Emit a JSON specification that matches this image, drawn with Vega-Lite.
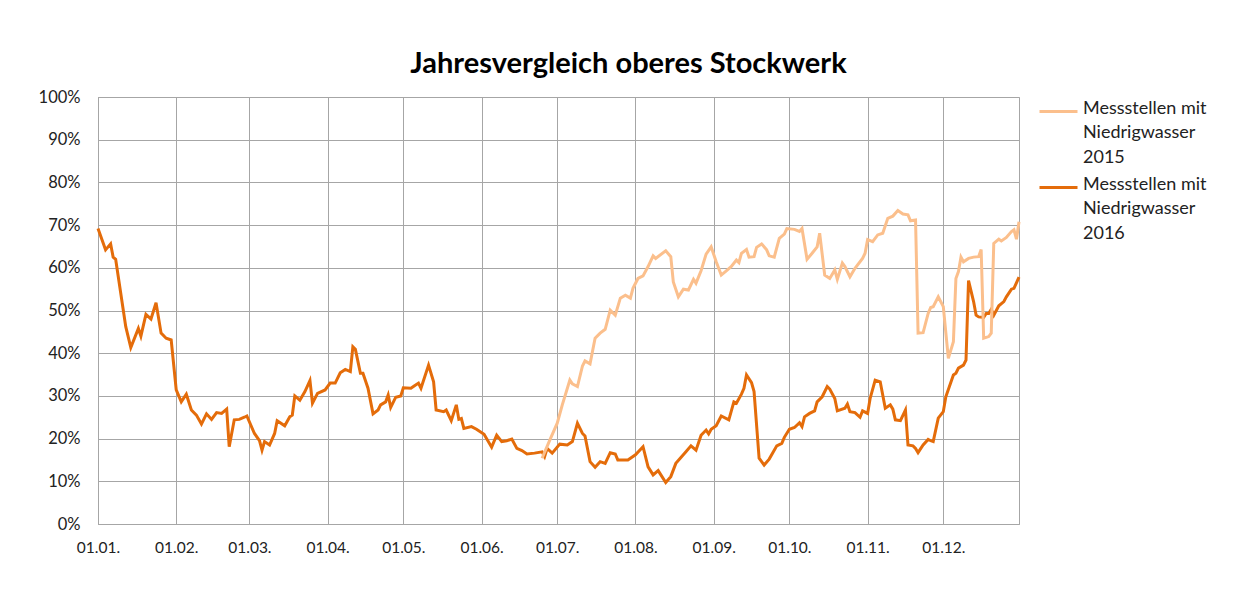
{
  "$schema": "https://vega.github.io/schema/vega-lite/v6.json",
  "width": 921,
  "height": 427,
  "autosize": {"type": "none"},
  "padding": {"left": 98, "top": 97, "right": 221, "bottom": 66},
  "background": "white",
  "title": {"text": "Jahresvergleich oberes Stockwerk", "font": "Lato", "fontSize": 29, "fontWeight": "bold", "color": "#000000", "anchor": "middle", "dx": 70, "offset": 10},
  "datasets": {
    "rows": [
      {"s": "2016", "d": "2016-01-01", "v": 69.2},
      {"s": "2016", "d": "2016-01-04", "v": 64.2},
      {"s": "2016", "d": "2016-01-06", "v": 65.6},
      {"s": "2016", "d": "2016-01-07", "v": 62.5},
      {"s": "2016", "d": "2016-01-08", "v": 62.0},
      {"s": "2016", "d": "2016-01-12", "v": 46.2},
      {"s": "2016", "d": "2016-01-14", "v": 41.3},
      {"s": "2016", "d": "2016-01-17", "v": 45.8},
      {"s": "2016", "d": "2016-01-18", "v": 44.0},
      {"s": "2016", "d": "2016-01-20", "v": 49.1},
      {"s": "2016", "d": "2016-01-22", "v": 48.0},
      {"s": "2016", "d": "2016-01-24", "v": 51.8},
      {"s": "2016", "d": "2016-01-26", "v": 44.7},
      {"s": "2016", "d": "2016-01-28", "v": 43.5},
      {"s": "2016", "d": "2016-01-30", "v": 43.1},
      {"s": "2016", "d": "2016-02-01", "v": 31.4},
      {"s": "2016", "d": "2016-02-03", "v": 28.6},
      {"s": "2016", "d": "2016-02-05", "v": 30.4},
      {"s": "2016", "d": "2016-02-07", "v": 26.7},
      {"s": "2016", "d": "2016-02-09", "v": 25.5},
      {"s": "2016", "d": "2016-02-11", "v": 23.4},
      {"s": "2016", "d": "2016-02-13", "v": 25.8},
      {"s": "2016", "d": "2016-02-15", "v": 24.5},
      {"s": "2016", "d": "2016-02-17", "v": 26.1},
      {"s": "2016", "d": "2016-02-19", "v": 25.9},
      {"s": "2016", "d": "2016-02-21", "v": 26.9},
      {"s": "2016", "d": "2016-02-22", "v": 18.1},
      {"s": "2016", "d": "2016-02-24", "v": 24.4},
      {"s": "2016", "d": "2016-02-26", "v": 24.5},
      {"s": "2016", "d": "2016-02-28", "v": 25.0},
      {"s": "2016", "d": "2016-02-29", "v": 25.3},
      {"s": "2016", "d": "2016-03-03", "v": 21.2},
      {"s": "2016", "d": "2016-03-05", "v": 19.5},
      {"s": "2016", "d": "2016-03-06", "v": 17.3},
      {"s": "2016", "d": "2016-03-07", "v": 19.3},
      {"s": "2016", "d": "2016-03-09", "v": 18.5},
      {"s": "2016", "d": "2016-03-11", "v": 21.2},
      {"s": "2016", "d": "2016-03-12", "v": 24.2},
      {"s": "2016", "d": "2016-03-15", "v": 23.0},
      {"s": "2016", "d": "2016-03-17", "v": 25.1},
      {"s": "2016", "d": "2016-03-18", "v": 25.5},
      {"s": "2016", "d": "2016-03-19", "v": 30.0},
      {"s": "2016", "d": "2016-03-21", "v": 29.0},
      {"s": "2016", "d": "2016-03-23", "v": 31.0},
      {"s": "2016", "d": "2016-03-25", "v": 33.6},
      {"s": "2016", "d": "2016-03-26", "v": 28.3},
      {"s": "2016", "d": "2016-03-28", "v": 30.6},
      {"s": "2016", "d": "2016-03-31", "v": 31.4},
      {"s": "2016", "d": "2016-04-02", "v": 33.0},
      {"s": "2016", "d": "2016-04-04", "v": 33.0},
      {"s": "2016", "d": "2016-04-06", "v": 35.4},
      {"s": "2016", "d": "2016-04-08", "v": 36.2},
      {"s": "2016", "d": "2016-04-10", "v": 35.7},
      {"s": "2016", "d": "2016-04-11", "v": 41.5},
      {"s": "2016", "d": "2016-04-12", "v": 40.9},
      {"s": "2016", "d": "2016-04-14", "v": 35.3},
      {"s": "2016", "d": "2016-04-15", "v": 35.3},
      {"s": "2016", "d": "2016-04-17", "v": 31.8},
      {"s": "2016", "d": "2016-04-19", "v": 25.8},
      {"s": "2016", "d": "2016-04-21", "v": 26.7},
      {"s": "2016", "d": "2016-04-22", "v": 27.9},
      {"s": "2016", "d": "2016-04-24", "v": 28.6},
      {"s": "2016", "d": "2016-04-25", "v": 30.2},
      {"s": "2016", "d": "2016-04-26", "v": 27.3},
      {"s": "2016", "d": "2016-04-28", "v": 29.7},
      {"s": "2016", "d": "2016-04-30", "v": 30.0},
      {"s": "2016", "d": "2016-05-01", "v": 31.9},
      {"s": "2016", "d": "2016-05-04", "v": 31.8},
      {"s": "2016", "d": "2016-05-05", "v": 32.2},
      {"s": "2016", "d": "2016-05-07", "v": 33.0},
      {"s": "2016", "d": "2016-05-08", "v": 31.8},
      {"s": "2016", "d": "2016-05-11", "v": 37.2},
      {"s": "2016", "d": "2016-05-13", "v": 33.3},
      {"s": "2016", "d": "2016-05-14", "v": 26.7},
      {"s": "2016", "d": "2016-05-17", "v": 26.3},
      {"s": "2016", "d": "2016-05-18", "v": 26.7},
      {"s": "2016", "d": "2016-05-20", "v": 24.2},
      {"s": "2016", "d": "2016-05-22", "v": 27.9},
      {"s": "2016", "d": "2016-05-23", "v": 24.5},
      {"s": "2016", "d": "2016-05-24", "v": 24.7},
      {"s": "2016", "d": "2016-05-25", "v": 22.4},
      {"s": "2016", "d": "2016-05-28", "v": 22.8},
      {"s": "2016", "d": "2016-05-30", "v": 22.2},
      {"s": "2016", "d": "2016-06-02", "v": 21.0},
      {"s": "2016", "d": "2016-06-05", "v": 18.0},
      {"s": "2016", "d": "2016-06-07", "v": 20.8},
      {"s": "2016", "d": "2016-06-09", "v": 19.3},
      {"s": "2016", "d": "2016-06-11", "v": 19.5},
      {"s": "2016", "d": "2016-06-13", "v": 19.9},
      {"s": "2016", "d": "2016-06-15", "v": 17.7},
      {"s": "2016", "d": "2016-06-17", "v": 17.2},
      {"s": "2016", "d": "2016-06-19", "v": 16.4},
      {"s": "2016", "d": "2016-06-22", "v": 16.6},
      {"s": "2016", "d": "2016-06-25", "v": 16.9},
      {"s": "2016", "d": "2016-06-26", "v": 15.8},
      {"s": "2016", "d": "2016-06-27", "v": 17.7},
      {"s": "2016", "d": "2016-06-29", "v": 16.6},
      {"s": "2016", "d": "2016-07-02", "v": 18.7},
      {"s": "2016", "d": "2016-07-05", "v": 18.5},
      {"s": "2016", "d": "2016-07-07", "v": 19.3},
      {"s": "2016", "d": "2016-07-09", "v": 23.6},
      {"s": "2016", "d": "2016-07-11", "v": 21.2},
      {"s": "2016", "d": "2016-07-12", "v": 20.6},
      {"s": "2016", "d": "2016-07-14", "v": 14.6},
      {"s": "2016", "d": "2016-07-16", "v": 13.3},
      {"s": "2016", "d": "2016-07-18", "v": 14.6},
      {"s": "2016", "d": "2016-07-20", "v": 14.2},
      {"s": "2016", "d": "2016-07-22", "v": 16.7},
      {"s": "2016", "d": "2016-07-24", "v": 16.4},
      {"s": "2016", "d": "2016-07-25", "v": 15.0},
      {"s": "2016", "d": "2016-07-29", "v": 15.0},
      {"s": "2016", "d": "2016-08-01", "v": 16.2},
      {"s": "2016", "d": "2016-08-04", "v": 18.1},
      {"s": "2016", "d": "2016-08-06", "v": 13.4},
      {"s": "2016", "d": "2016-08-08", "v": 11.5},
      {"s": "2016", "d": "2016-08-10", "v": 12.5},
      {"s": "2016", "d": "2016-08-13", "v": 9.7},
      {"s": "2016", "d": "2016-08-15", "v": 11.1},
      {"s": "2016", "d": "2016-08-17", "v": 14.2},
      {"s": "2016", "d": "2016-08-21", "v": 16.9},
      {"s": "2016", "d": "2016-08-23", "v": 18.3},
      {"s": "2016", "d": "2016-08-25", "v": 17.3},
      {"s": "2016", "d": "2016-08-27", "v": 20.8},
      {"s": "2016", "d": "2016-08-29", "v": 22.0},
      {"s": "2016", "d": "2016-08-30", "v": 21.1},
      {"s": "2016", "d": "2016-08-31", "v": 22.2},
      {"s": "2016", "d": "2016-09-02", "v": 23.0},
      {"s": "2016", "d": "2016-09-04", "v": 25.3},
      {"s": "2016", "d": "2016-09-07", "v": 24.4},
      {"s": "2016", "d": "2016-09-09", "v": 28.6},
      {"s": "2016", "d": "2016-09-10", "v": 28.3},
      {"s": "2016", "d": "2016-09-12", "v": 30.4},
      {"s": "2016", "d": "2016-09-13", "v": 31.8},
      {"s": "2016", "d": "2016-09-14", "v": 34.9},
      {"s": "2016", "d": "2016-09-16", "v": 33.1},
      {"s": "2016", "d": "2016-09-17", "v": 31.0},
      {"s": "2016", "d": "2016-09-19", "v": 15.4},
      {"s": "2016", "d": "2016-09-20", "v": 14.6},
      {"s": "2016", "d": "2016-09-21", "v": 13.8},
      {"s": "2016", "d": "2016-09-23", "v": 15.2},
      {"s": "2016", "d": "2016-09-26", "v": 18.3},
      {"s": "2016", "d": "2016-09-28", "v": 18.9},
      {"s": "2016", "d": "2016-09-29", "v": 20.3},
      {"s": "2016", "d": "2016-10-01", "v": 22.2},
      {"s": "2016", "d": "2016-10-03", "v": 22.6},
      {"s": "2016", "d": "2016-10-05", "v": 23.7},
      {"s": "2016", "d": "2016-10-06", "v": 22.8},
      {"s": "2016", "d": "2016-10-07", "v": 25.1},
      {"s": "2016", "d": "2016-10-09", "v": 25.9},
      {"s": "2016", "d": "2016-10-11", "v": 26.5},
      {"s": "2016", "d": "2016-10-12", "v": 28.6},
      {"s": "2016", "d": "2016-10-14", "v": 29.8},
      {"s": "2016", "d": "2016-10-16", "v": 32.2},
      {"s": "2016", "d": "2016-10-17", "v": 31.6},
      {"s": "2016", "d": "2016-10-19", "v": 29.4},
      {"s": "2016", "d": "2016-10-20", "v": 26.5},
      {"s": "2016", "d": "2016-10-23", "v": 27.1},
      {"s": "2016", "d": "2016-10-24", "v": 28.1},
      {"s": "2016", "d": "2016-10-25", "v": 26.3},
      {"s": "2016", "d": "2016-10-27", "v": 26.1},
      {"s": "2016", "d": "2016-10-29", "v": 25.0},
      {"s": "2016", "d": "2016-10-30", "v": 26.5},
      {"s": "2016", "d": "2016-11-01", "v": 25.9},
      {"s": "2016", "d": "2016-11-02", "v": 29.4},
      {"s": "2016", "d": "2016-11-04", "v": 33.7},
      {"s": "2016", "d": "2016-11-06", "v": 33.3},
      {"s": "2016", "d": "2016-11-08", "v": 27.1},
      {"s": "2016", "d": "2016-11-10", "v": 27.9},
      {"s": "2016", "d": "2016-11-11", "v": 26.9},
      {"s": "2016", "d": "2016-11-12", "v": 24.4},
      {"s": "2016", "d": "2016-11-14", "v": 24.2},
      {"s": "2016", "d": "2016-11-16", "v": 26.7},
      {"s": "2016", "d": "2016-11-17", "v": 18.5},
      {"s": "2016", "d": "2016-11-19", "v": 18.3},
      {"s": "2016", "d": "2016-11-20", "v": 17.7},
      {"s": "2016", "d": "2016-11-21", "v": 16.7},
      {"s": "2016", "d": "2016-11-23", "v": 18.5},
      {"s": "2016", "d": "2016-11-25", "v": 19.8},
      {"s": "2016", "d": "2016-11-26", "v": 19.5},
      {"s": "2016", "d": "2016-11-27", "v": 19.3},
      {"s": "2016", "d": "2016-11-29", "v": 24.8},
      {"s": "2016", "d": "2016-12-01", "v": 26.3},
      {"s": "2016", "d": "2016-12-02", "v": 29.8},
      {"s": "2016", "d": "2016-12-05", "v": 34.9},
      {"s": "2016", "d": "2016-12-06", "v": 35.3},
      {"s": "2016", "d": "2016-12-07", "v": 36.5},
      {"s": "2016", "d": "2016-12-09", "v": 37.2},
      {"s": "2016", "d": "2016-12-10", "v": 38.4},
      {"s": "2016", "d": "2016-12-11", "v": 57.0},
      {"s": "2016", "d": "2016-12-13", "v": 52.1},
      {"s": "2016", "d": "2016-12-14", "v": 48.9},
      {"s": "2016", "d": "2016-12-15", "v": 48.5},
      {"s": "2016", "d": "2016-12-17", "v": 48.4},
      {"s": "2016", "d": "2016-12-18", "v": 49.3},
      {"s": "2016", "d": "2016-12-19", "v": 49.3},
      {"s": "2016", "d": "2016-12-20", "v": 50.3},
      {"s": "2016", "d": "2016-12-21", "v": 48.9},
      {"s": "2016", "d": "2016-12-23", "v": 51.1},
      {"s": "2016", "d": "2016-12-25", "v": 52.1},
      {"s": "2016", "d": "2016-12-26", "v": 53.2},
      {"s": "2016", "d": "2016-12-28", "v": 55.0},
      {"s": "2016", "d": "2016-12-29", "v": 55.2},
      {"s": "2016", "d": "2016-12-31", "v": 57.8},
      {"s": "2015", "d": "2016-06-25", "v": 15.4},
      {"s": "2015", "d": "2016-06-28", "v": 19.6},
      {"s": "2015", "d": "2016-07-01", "v": 23.6},
      {"s": "2015", "d": "2016-07-03", "v": 27.9},
      {"s": "2015", "d": "2016-07-06", "v": 33.7},
      {"s": "2015", "d": "2016-07-07", "v": 32.8},
      {"s": "2015", "d": "2016-07-09", "v": 32.2},
      {"s": "2015", "d": "2016-07-11", "v": 37.0},
      {"s": "2015", "d": "2016-07-12", "v": 38.2},
      {"s": "2015", "d": "2016-07-14", "v": 37.5},
      {"s": "2015", "d": "2016-07-16", "v": 43.5},
      {"s": "2015", "d": "2016-07-18", "v": 44.7},
      {"s": "2015", "d": "2016-07-20", "v": 45.6},
      {"s": "2015", "d": "2016-07-22", "v": 50.1},
      {"s": "2015", "d": "2016-07-24", "v": 48.9},
      {"s": "2015", "d": "2016-07-26", "v": 52.9},
      {"s": "2015", "d": "2016-07-28", "v": 53.6},
      {"s": "2015", "d": "2016-07-30", "v": 52.9},
      {"s": "2015", "d": "2016-07-31", "v": 55.2},
      {"s": "2015", "d": "2016-08-02", "v": 57.5},
      {"s": "2015", "d": "2016-08-04", "v": 58.1},
      {"s": "2015", "d": "2016-08-06", "v": 60.3},
      {"s": "2015", "d": "2016-08-08", "v": 62.8},
      {"s": "2015", "d": "2016-08-09", "v": 62.2},
      {"s": "2015", "d": "2016-08-13", "v": 64.0},
      {"s": "2015", "d": "2016-08-15", "v": 62.6},
      {"s": "2015", "d": "2016-08-16", "v": 56.7},
      {"s": "2015", "d": "2016-08-18", "v": 53.2},
      {"s": "2015", "d": "2016-08-20", "v": 55.0},
      {"s": "2015", "d": "2016-08-22", "v": 54.8},
      {"s": "2015", "d": "2016-08-24", "v": 57.3},
      {"s": "2015", "d": "2016-08-25", "v": 56.4},
      {"s": "2015", "d": "2016-08-27", "v": 59.3},
      {"s": "2015", "d": "2016-08-29", "v": 63.2},
      {"s": "2015", "d": "2016-08-31", "v": 64.9},
      {"s": "2015", "d": "2016-09-02", "v": 61.4},
      {"s": "2015", "d": "2016-09-04", "v": 58.3},
      {"s": "2015", "d": "2016-09-06", "v": 59.3},
      {"s": "2015", "d": "2016-09-08", "v": 60.3},
      {"s": "2015", "d": "2016-09-10", "v": 61.8},
      {"s": "2015", "d": "2016-09-11", "v": 61.2},
      {"s": "2015", "d": "2016-09-12", "v": 63.4},
      {"s": "2015", "d": "2016-09-14", "v": 64.3},
      {"s": "2015", "d": "2016-09-15", "v": 62.5},
      {"s": "2015", "d": "2016-09-17", "v": 62.6},
      {"s": "2015", "d": "2016-09-18", "v": 64.8},
      {"s": "2015", "d": "2016-09-20", "v": 65.6},
      {"s": "2015", "d": "2016-09-22", "v": 64.2},
      {"s": "2015", "d": "2016-09-23", "v": 62.8},
      {"s": "2015", "d": "2016-09-25", "v": 62.5},
      {"s": "2015", "d": "2016-09-27", "v": 66.9},
      {"s": "2015", "d": "2016-09-29", "v": 67.9},
      {"s": "2015", "d": "2016-09-30", "v": 69.2},
      {"s": "2015", "d": "2016-10-03", "v": 69.0},
      {"s": "2015", "d": "2016-10-05", "v": 68.5},
      {"s": "2015", "d": "2016-10-06", "v": 69.2},
      {"s": "2015", "d": "2016-10-08", "v": 62.0},
      {"s": "2015", "d": "2016-10-10", "v": 63.4},
      {"s": "2015", "d": "2016-10-12", "v": 64.9},
      {"s": "2015", "d": "2016-10-13", "v": 68.1},
      {"s": "2015", "d": "2016-10-15", "v": 58.3},
      {"s": "2015", "d": "2016-10-17", "v": 57.5},
      {"s": "2015", "d": "2016-10-19", "v": 59.5},
      {"s": "2015", "d": "2016-10-20", "v": 57.3},
      {"s": "2015", "d": "2016-10-22", "v": 61.1},
      {"s": "2015", "d": "2016-10-23", "v": 60.3},
      {"s": "2015", "d": "2016-10-25", "v": 57.9},
      {"s": "2015", "d": "2016-10-27", "v": 59.9},
      {"s": "2015", "d": "2016-10-30", "v": 62.2},
      {"s": "2015", "d": "2016-10-31", "v": 63.4},
      {"s": "2015", "d": "2016-11-01", "v": 66.6},
      {"s": "2015", "d": "2016-11-03", "v": 66.1},
      {"s": "2015", "d": "2016-11-05", "v": 67.7},
      {"s": "2015", "d": "2016-11-07", "v": 68.1},
      {"s": "2015", "d": "2016-11-09", "v": 71.6},
      {"s": "2015", "d": "2016-11-11", "v": 72.1},
      {"s": "2015", "d": "2016-11-13", "v": 73.4},
      {"s": "2015", "d": "2016-11-15", "v": 72.6},
      {"s": "2015", "d": "2016-11-17", "v": 72.4},
      {"s": "2015", "d": "2016-11-18", "v": 71.0},
      {"s": "2015", "d": "2016-11-20", "v": 71.2},
      {"s": "2015", "d": "2016-11-21", "v": 44.7},
      {"s": "2015", "d": "2016-11-23", "v": 44.8},
      {"s": "2015", "d": "2016-11-25", "v": 49.3},
      {"s": "2015", "d": "2016-11-26", "v": 50.7},
      {"s": "2015", "d": "2016-11-27", "v": 50.9},
      {"s": "2015", "d": "2016-11-29", "v": 53.2},
      {"s": "2015", "d": "2016-12-01", "v": 50.9},
      {"s": "2015", "d": "2016-12-03", "v": 38.8},
      {"s": "2015", "d": "2016-12-05", "v": 42.7},
      {"s": "2015", "d": "2016-12-06", "v": 57.5},
      {"s": "2015", "d": "2016-12-07", "v": 59.1},
      {"s": "2015", "d": "2016-12-08", "v": 62.5},
      {"s": "2015", "d": "2016-12-09", "v": 61.4},
      {"s": "2015", "d": "2016-12-11", "v": 62.2},
      {"s": "2015", "d": "2016-12-13", "v": 62.5},
      {"s": "2015", "d": "2016-12-15", "v": 62.6},
      {"s": "2015", "d": "2016-12-16", "v": 64.3},
      {"s": "2015", "d": "2016-12-17", "v": 43.5},
      {"s": "2015", "d": "2016-12-19", "v": 43.9},
      {"s": "2015", "d": "2016-12-20", "v": 44.7},
      {"s": "2015", "d": "2016-12-21", "v": 65.7},
      {"s": "2015", "d": "2016-12-23", "v": 66.7},
      {"s": "2015", "d": "2016-12-24", "v": 66.3},
      {"s": "2015", "d": "2016-12-26", "v": 67.1},
      {"s": "2015", "d": "2016-12-28", "v": 68.5},
      {"s": "2015", "d": "2016-12-29", "v": 68.9},
      {"s": "2015", "d": "2016-12-30", "v": 66.7},
      {"s": "2015", "d": "2016-12-31", "v": 70.8}
    ]
  },
  "data": {"name": "rows"},
  "mark": {"type": "line", "strokeWidth": 3, "interpolate": "linear"},
  "encoding": {
    "x": {
      "field": "d",
      "type": "temporal",
      "scale": {"type": "utc", "domain": [{"year": 2016, "month": 1, "date": 1, "utc": true}, {"year": 2016, "month": 12, "date": 31, "utc": true}]},
      "axis": {"title": null, "format": "%d.%m.", "tickCount": {"interval": "month", "step": 1}, "ticks": false, "grid": true, "labelPadding": 16, "labelFlush": false, "labelOverlap": false, "labelFont": "Lato", "labelFontSize": 15.5, "labelColor": "#222222", "domainColor": "#a6a6a6", "gridColor": "#a6a6a6"}
    },
    "y": {
      "field": "v",
      "type": "quantitative",
      "scale": {"domain": [0, 100], "nice": false},
      "axis": {"title": null, "values": [0, 10, 20, 30, 40, 50, 60, 70, 80, 90, 100], "labelExpr": "datum.value + '%'", "ticks": false, "grid": true, "labelPadding": 18, "labelFont": "Lato", "labelFontSize": 16.5, "labelColor": "#222222", "domainColor": "#a6a6a6", "gridColor": "#a6a6a6"}
    },
    "color": {
      "field": "s",
      "type": "nominal",
      "scale": {"domain": ["2015", "2016"], "range": ["#fbbf8c", "#e46c0a"]},
      "legend": {"title": null, "orient": "none", "legendX": 940, "legendY": -6, "rowPadding": -6, "symbolType": "stroke", "symbolStrokeWidth": 3, "symbolSize": 1444, "labelExpr": "['Messstellen mit', 'Niedrigwasser', datum.label]", "labelFont": "Lato", "labelFontSize": 18, "labelColor": "#222222", "labelLimit": 220, "labelBaseline": "top", "labelOffset": 4,
        "encode": {"labels": {"update": {"lineHeight": {"value": 24.5}, "dy": {"value": -12}}}}}
    }
  },
  "config": {"view": {"stroke": "#a6a6a6"}}
}
